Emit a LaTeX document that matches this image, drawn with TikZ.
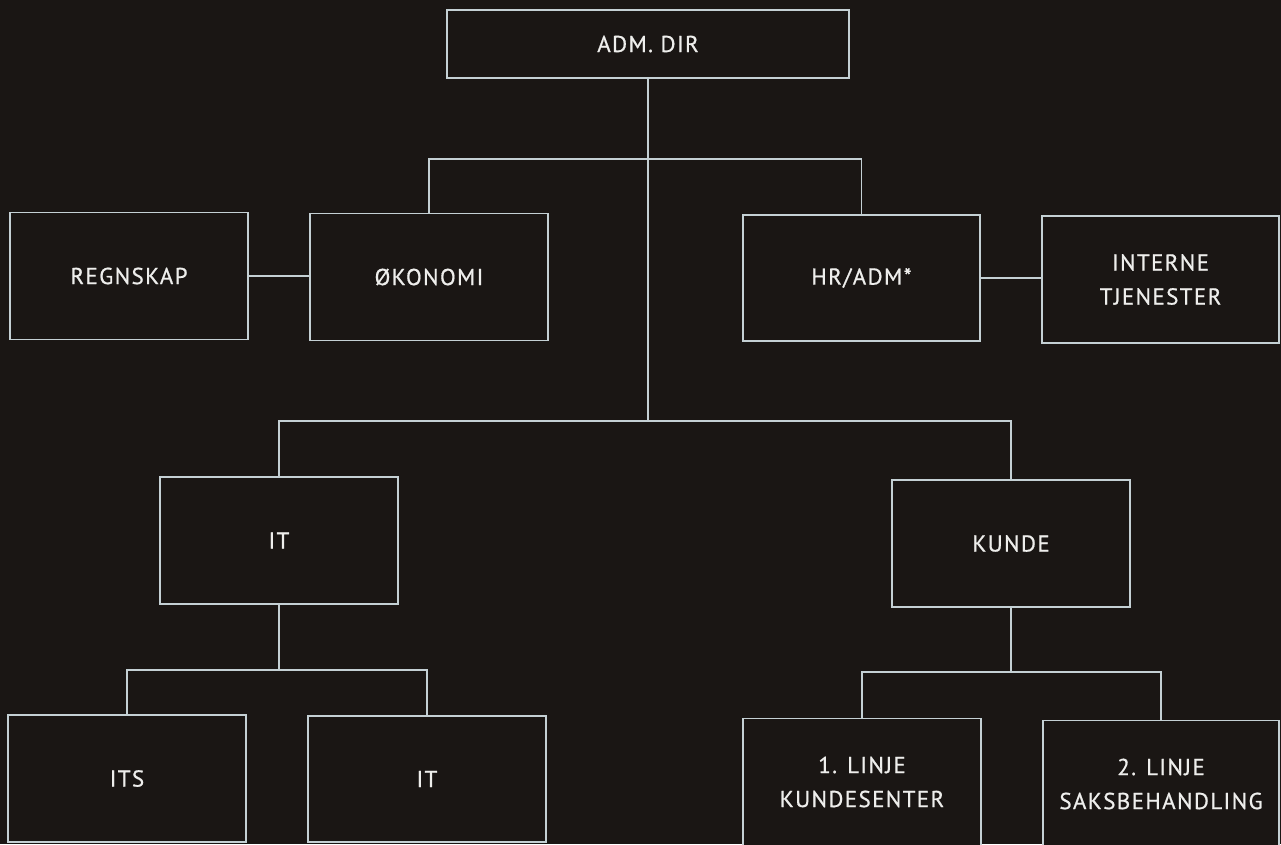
\documentclass[tikz,border=0pt]{standalone}
\usepackage{fontspec}
\setmainfont[LetterSpace=6,FakeBold=0.7]{PT Sans}
\definecolor{bg}{RGB}{26,22,20}
\definecolor{ln}{RGB}{196,208,212}
\definecolor{tx}{RGB}{238,238,236}
\tikzset{
  box/.style={draw=ln, line width=1.1pt, fill=bg, text=tx, minimum width=238pt, minimum height=127pt, inner sep=0pt, align=center, font=\fontsize{23}{34}\selectfont},
  conn/.style={draw=ln, line width=1.1pt}
}
\begin{document}
\begin{tikzpicture}[x=1pt,y=-1pt]
\fill[bg] (0,0) rectangle (1281,844);
\useasboundingbox (0,0) rectangle (1281,844);
\clip (0,0) rectangle (1281,844);
\coordinate (b1) at (648,159);
\coordinate (b2) at (648,421);
\coordinate (b3) at (279,670);
\coordinate (b4) at (1011,672);
\node[box, minimum width=402pt, minimum height=68pt] (adm) at (648,44) {ADM. DIR};
\node[box] (regn) at (129,276) {REGNSKAP};
\node[box] (oko) at (429,277) {ØKONOMI};
\node[box, minimum width=237pt, minimum height=126pt] (hr) at (861.5,278) {HR/ADM*};
\node[box, minimum width=237pt] (int) at (1160.5,279.5) {INTERNE\\TJENESTER};
\node[box] (it) at (279,540.5) {IT};
\node[box] (kunde) at (1011,543.5) {KUNDE};
\node[box] (its) at (127,778.5) {ITS};
\node[box, minimum height=126pt] (it2) at (427,779) {IT};
\node[box] (l1) at (862,782) {1. LINJE\\KUNDESENTER};
\node[box, minimum width=236pt] (l2) at (1161,784) {2. LINJE\\SAKSBEHANDLING};
\draw[conn] (adm.south) -- (b2);
\draw[conn] (oko.north) |- (b1) -| (hr.north);
\draw[conn] (it.north) |- (b2) -| (kunde.north);
\draw[conn] (regn.east) -- (regn.east -| oko.west);
\draw[conn] (hr.east) -- (hr.east -| int.west);
\draw[conn] (it.south) -- (b3);
\draw[conn] (its.north) |- (b3) -| (it2.north);
\draw[conn] (kunde.south) -- (b4);
\draw[conn] (l1.north) |- (b4) -| (l2.north);
\end{tikzpicture}
\end{document}
